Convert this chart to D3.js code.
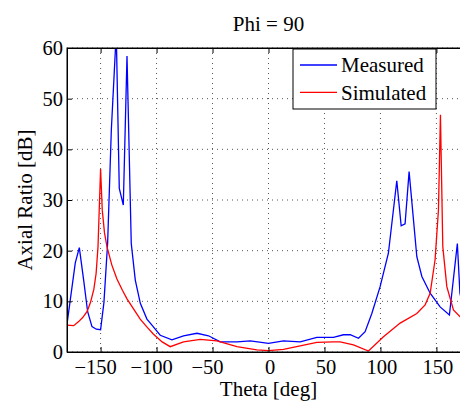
<!DOCTYPE html>
<html>
<head>
<meta charset="utf-8">
<script src="https://cdn.jsdelivr.net/npm/d3@7"></script>
<style>
  body { margin: 0; background: #fff; }
  text { font-family: "Liberation Serif", "Times New Roman", serif; }
</style>
</head>
<body>
<div id="chart"></div>
<script>
const width = 460
const height = 403
const margin = { top: 48, right: -10, bottom: 51, left: 67 }

// Measured axial ratio (theta in deg, AR in dB)
const measTheta = [-180, -172.6, -169, -165, -161.6, -157.7, -153.8, -150, -147, -143.7, -140.4, -136, -133.3, -129.7, -126.4, -122.6, -119, -114.5, -108.6, -105.6, -96.7, -86.3, -75.9, -63.9, -53.6, -43.1, -28.2, -16.3, 0, 13.4, 28.3, 43.2, 58, 67, 73, 80.4, 86.3, 92.3, 99.7, 107.1, 114.6, 118.5, 122, 125.6, 132.5, 137, 144.4, 153.3, 161.6, 168.7, 171, 175]
const measAR = [5.5, 17.6, 20.6, 14, 8.0, 5, 4.5, 4.4, 9.8, 21.5, 43.8, 63, 32.3, 29, 58.4, 21.4, 14.2, 9.6, 6.5, 5.7, 3.3, 2.4, 3.2, 3.7, 3.2, 2.0, 2.0, 2.2, 1.7, 2.2, 2.0, 2.9, 2.9, 3.4, 3.4, 2.7, 4.0, 7.6, 12.9, 19.5, 33.8, 24.9, 25.3, 35.6, 18.8, 14.9, 11.6, 8.9, 7.3, 21.4, 11.6, 8]

// Simulated axial ratio
const simTheta = [-180, -174, -169.6, -166, -162, -159, -156, -154, -152.3, -150, -148.5, -146.5, -144.3, -140, -135.4, -130.5, -126.4, -120, -114.6, -108.5, -102.7, -95, -87.8, -75.9, -61, -46.1, -28.2, -10.4, 0, 13.4, 28.3, 43.2, 58, 64, 75.9, 89.3, 102.7, 117.6, 132.5, 139.9, 144.4, 148.8, 151.8, 153.6, 155.7, 159.3, 165.2, 171, 175, 180]
const simAR = [5.3, 5.2, 6.0, 6.8, 8.0, 9.8, 12.4, 15.5, 20.8, 36.1, 28, 23.5, 20.8, 17.2, 14.4, 12.2, 10.5, 8.3, 6.5, 4.9, 3.5, 2.0, 1.05, 2.0, 2.5, 2.2, 1.05, 0.4, 0.26, 0.5, 1.2, 1.9, 2.0, 2.0, 1.4, 0.2, 3.0, 5.7, 7.6, 9.3, 11.6, 18.2, 28, 46.8, 20.8, 12.9, 8.3, 7.0, 6.0, 5.3]

const xTicks = [-150, -100, -50, 0, 50, 100, 150]
const yTicks = [0, 10, 20, 30, 40, 50, 60]
const seriesNames = ["Measured", "Simulated"]
const seriesColors = ["#0000ff", "#ff0000"]

const iW = width - margin.left - margin.right
const iH = height - margin.top - margin.bottom

const svg = d3.select("#chart").append("svg")
    .attr("width", width).attr("height", height)

const x = d3.scaleLinear().domain([-180, 180]).range([margin.left, margin.left + iW])
const y = d3.scaleLinear().domain([0, 60]).range([margin.top + iH, margin.top])

svg.append("defs").append("clipPath").attr("id", "clip")
  .append("rect")
    .attr("x", margin.left).attr("y", margin.top)
    .attr("width", iW).attr("height", iH)

// grid
const grid = svg.append("g").attr("class", "grid")
grid.selectAll("line.gx").data(xTicks).join("line")
    .attr("x1", d => x(d)).attr("x2", d => x(d))
    .attr("y1", margin.top).attr("y2", margin.top + iH)
grid.selectAll("line.gy").data(yTicks).join("line")
    .attr("x1", margin.left).attr("x2", margin.left + iW)
    .attr("y1", d => y(d)).attr("y2", d => y(d))
grid.selectAll("line")
    .attr("stroke", "#555").attr("stroke-width", 1)
    .attr("stroke-dasharray", "1,4")

// lines
const line = d3.line().x(d => x(d[0])).y(d => y(d[1]))
const series = [
    d3.zip(measTheta, measAR),
    d3.zip(simTheta, simAR)
]
svg.append("g").attr("clip-path", "url(#clip)")
  .selectAll("path").data(series).join("path")
    .attr("d", line)
    .attr("fill", "none")
    .attr("stroke", (d, i) => seriesColors[i])
    .attr("stroke-width", 1.3)

// axes (inward ticks)
const fmt = d3.format("")
const xAxis = svg.append("g")
    .attr("transform", `translate(0,${margin.top + iH})`)
    .call(d3.axisBottom(x).tickValues(xTicks).tickSizeInner(-5).tickSizeOuter(0).tickPadding(7).tickFormat(fmt))
// matlab centres the digits, the minus sign hangs to the left
xAxis.selectAll(".tick text").attr("dx", d => d < 0 ? -5.5 : 1)
svg.append("g")
    .attr("transform", `translate(0,${margin.top})`)
    .call(d3.axisTop(x).tickValues(xTicks).tickSizeInner(-5).tickSizeOuter(0).tickFormat(""))
const yAxis = svg.append("g")
    .attr("transform", `translate(${margin.left},0)`)
    .call(d3.axisLeft(y).tickValues(yTicks).tickSizeInner(-5).tickSizeOuter(0).tickPadding(4).tickFormat(fmt))
svg.selectAll(".domain").attr("stroke", "#000")
svg.selectAll(".tick line").attr("stroke", "#000")
svg.selectAll(".tick text")
    .attr("font-family", "Liberation Serif, Times New Roman, serif")
    .attr("font-size", 20.5).attr("fill", "#000")

// frame
svg.append("rect")
    .attr("x", margin.left).attr("y", margin.top)
    .attr("width", iW).attr("height", iH)
    .attr("fill", "none").attr("stroke", "#000").attr("stroke-width", 1)

// title and labels
svg.append("text")
    .attr("x", x(0)).attr("y", 31)
    .attr("text-anchor", "middle").attr("font-size", 21)
    .text("Phi = 90")
svg.append("text")
    .attr("x", x(0)).attr("y", 396)
    .attr("text-anchor", "middle").attr("font-size", 21)
    .text("Theta [deg]")
svg.append("text")
    .attr("transform", `translate(32,${(margin.top + margin.top + iH) / 2}) rotate(-90)`)
    .attr("text-anchor", "middle").attr("font-size", 21)
    .text("Axial Ratio [dB]")

// legend
const lg = svg.append("g").attr("transform", "translate(293,49)")
lg.append("rect")
    .attr("width", 143).attr("height", 60)
    .attr("fill", "#fff").attr("stroke", "#000").attr("stroke-width", 1)
seriesNames.forEach((name, i) => {
    const ly = 16 + i * 27.3
    lg.append("line")
        .attr("x1", 7).attr("x2", 44).attr("y1", ly).attr("y2", ly)
        .attr("stroke", seriesColors[i]).attr("stroke-width", 1.3)
    lg.append("text")
        .attr("x", 48).attr("y", ly).attr("dy", "0.35em")
        .attr("font-size", 21)
        .text(name)
})
</script>
</body>
</html>
